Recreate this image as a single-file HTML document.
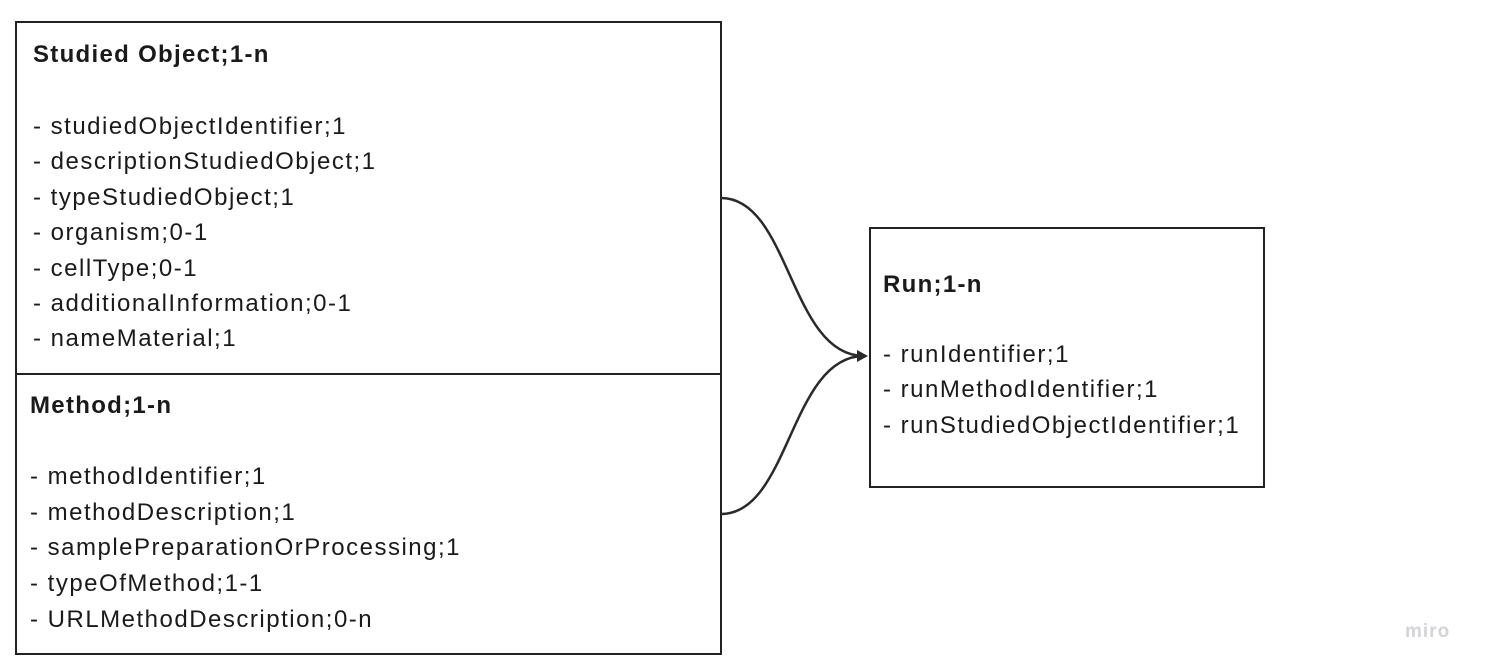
<!DOCTYPE html>
<html><head><meta charset="utf-8"><style>
body{margin:0;width:1487px;height:672px;background:#fff;position:relative;overflow:hidden;font-family:"Liberation Sans",sans-serif;color:#1a1a1a}
.box{position:absolute;border:2.5px solid #222;box-sizing:border-box}
.t{position:absolute;font-size:24px;line-height:35px;white-space:nowrap;letter-spacing:1.5px}
.b{font-weight:bold;letter-spacing:1.3px}
</style></head><body>
<div class="box" style="left:15px;top:21px;width:707px;height:354px"></div>
<div class="box" style="left:15px;top:373px;width:707px;height:282px"></div>
<div class="box" style="left:869px;top:227px;width:396px;height:261px"></div>
<svg width="1487" height="672" style="position:absolute;left:0;top:0">
<path d="M721 198 C790 198 790 356 864 356" fill="none" stroke="#2a2a2a" stroke-width="2.5"/>
<path d="M721 514 C790 514 790 356 864 356" fill="none" stroke="#2a2a2a" stroke-width="2.5"/>
<path d="M857 350 L868 356 L857 362 Z" fill="#2a2a2a"/>
</svg>
<div class="t b" style="left:33px;top:37px">Studied Object;1-n</div>
<div class="t" style="left:33px;top:109px">- studiedObjectIdentifier;1</div>
<div class="t" style="left:33px;top:144px">- descriptionStudiedObject;1</div>
<div class="t" style="left:33px;top:180px">- typeStudiedObject;1</div>
<div class="t" style="left:33px;top:215px">- organism;0-1</div>
<div class="t" style="left:33px;top:251px">- cellType;0-1</div>
<div class="t" style="left:33px;top:286px">- additionalInformation;0-1</div>
<div class="t" style="left:33px;top:321px">- nameMaterial;1</div>
<div class="t b" style="left:30px;top:388px">Method;1-n</div>
<div class="t" style="left:30px;top:459px">- methodIdentifier;1</div>
<div class="t" style="left:30px;top:495px">- methodDescription;1</div>
<div class="t" style="left:30px;top:530px">- samplePreparationOrProcessing;1</div>
<div class="t" style="left:30px;top:566px">- typeOfMethod;1-1</div>
<div class="t" style="left:30px;top:602px">- URLMethodDescription;0-n</div>
<div class="t b" style="left:883px;top:267px">Run;1-n</div>
<div class="t" style="left:883px;top:337px">- runIdentifier;1</div>
<div class="t" style="left:883px;top:372px">- runMethodIdentifier;1</div>
<div class="t" style="left:883px;top:408px">- runStudiedObjectIdentifier;1</div>
<div class="t b" style="left:1405px;top:614px;font-size:19px;color:#d4d4d8;letter-spacing:1px">miro</div>
</body></html>
